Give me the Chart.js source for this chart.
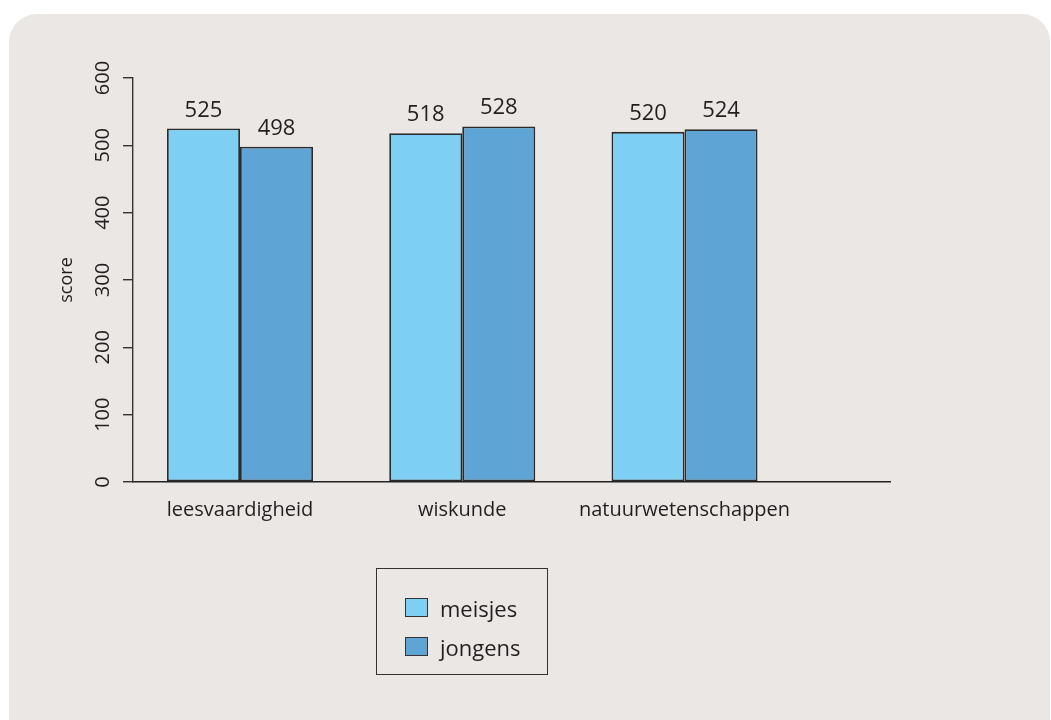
<!DOCTYPE html>
<html>

<head>
  <title>score meisjes jongens</title>
  <style>
    body {
      margin: 0;
      background-color: #ffffff;
      font-family: "Open Sans", sans-serif;
      width: 1051px;
      height: 720px;
      overflow: hidden;
      position: relative;
    }

    .paneel {
      position: absolute;
      left: 9px;
      top: 14px;
      width: 1041px;
      height: 740px;
      background-color: #ebe7e4;
      border-radius: 28px 28px 0 0;
    }

    #grafiek {
      position: absolute;
      left: 0;
      top: 0;
    }

    #legenda {
      position: absolute;
      left: 376px;
      top: 568px;
      width: 172px;
      height: 107px;
      border: 1.3px solid #333;
      box-sizing: border-box;
      padding-top: 19px;
      color: #231f20;
      font-size: 22px;
    }

    #legenda .item {
      height: 39px;
      display: flex;
      align-items: center;
      padding-left: 28px;
    }

    #legenda .blokje {
      width: 23px;
      height: 19px;
      border: 1.3px solid #333;
      box-sizing: border-box;
      margin-right: 12px;
    }
  </style>
</head>

<body>
  <div class="paneel"></div>
  <canvas id="grafiek" width="1051" height="720"></canvas>
  <div id="legenda"></div>

  <script src="https://cdn.jsdelivr.net/npm/chart.js"></script>
  <script>
    // data
    var vakken = ["leesvaardigheid", "wiskunde", "natuurwetenschappen"];
    var meisjes = [525, 518, 520];
    var jongens = [498, 528, 524];
    var yTicks = [0, 100, 200, 300, 400, 500, 600];

    var kleurMeisjes = "#7dcff4";
    var kleurJongens = "#5ea5d5";
    var tekstKleur = "#231f20";

    function punten(waarden) {
      return waarden.map(function (v, i) {
        return { x: i + 1, y: v };
      });
    }

    // getallen boven de staven
    var waardenPlugin = {
      id: "waarden",
      afterDatasetsDraw: function (chart) {
        var ctx = chart.ctx;
        ctx.save();
        ctx.font = "22px 'Open Sans'";
        ctx.fillStyle = tekstKleur;
        ctx.textAlign = "center";
        ctx.textBaseline = "alphabetic";
        chart.data.datasets.forEach(function (ds, d) {
          chart.getDatasetMeta(d).data.forEach(function (bar, i) {
            ctx.fillText(ds.data[i].y, bar.x, bar.y - 12);
          });
        });
        ctx.restore();
      }
    };

    var chart = new Chart(document.getElementById("grafiek"), {
      type: "bar",
      data: {
        datasets: [{
          label: "meisjes",
          data: punten(meisjes),
          backgroundColor: kleurMeisjes,
          borderColor: "#2b2b2b",
          borderWidth: 1.8,
          borderSkipped: false
        }, {
          label: "jongens",
          data: punten(jongens),
          backgroundColor: kleurJongens,
          borderColor: "#2b2b2b",
          borderWidth: 1.8,
          borderSkipped: false
        }]
      },
      options: {
        responsive: false,
        animation: false,
        layout: {
          padding: { left: 0, top: 78, right: 161, bottom: 198 }
        },
        datasets: {
          bar: { categoryPercentage: 0.657, barPercentage: 1 }
        },
        plugins: {
          legend: { display: false },
          tooltip: { enabled: false }
        },
        scales: {
          x: {
            type: "linear",
            offset: false,
            min: 0.5186,
            max: 3.9246,
            grid: { display: true, offset: false, drawOnChartArea: false, drawTicks: false },
            border: { display: true, color: "#222", width: 1.6 },
            afterBuildTicks: function (scale) {
              scale.ticks = vakken.map(function (v, i) { return { value: i + 1 }; });
            },
            ticks: {
              padding: 16,
              color: tekstKleur,
              font: { family: "Open Sans", size: 20 },
              maxRotation: 0,
              callback: function (v) { return vakken[v - 1]; }
            },
            afterFit: function (scale) { scale.height = 40; }
          },
          y: {
            min: 0,
            max: 600,
            afterBuildTicks: function (scale) {
              scale.ticks = yTicks.map(function (v) { return { value: v }; });
            },
            grid: { display: true, drawOnChartArea: false, drawTicks: true, tickLength: 10, color: "#333", lineWidth: 1.4 },
            border: { display: true, color: "#333", width: 1.4 },
            ticks: {
              padding: 3,
              minRotation: 90,
              maxRotation: 90,
              crossAlign: "center",
              color: tekstKleur,
              font: { family: "Open Sans", size: 20 }
            },
            title: {
              display: true,
              text: "score",
              color: tekstKleur,
              font: { family: "Open Sans", size: 18 },
              padding: { top: 56, bottom: 0 }
            },
            afterFit: function (scale) { scale.width = 133; }
          }
        }
      },
      plugins: [waardenPlugin]
    });

    // legenda opbouwen uit de datasets
    var legenda = document.getElementById("legenda");
    chart.data.datasets.forEach(function (ds) {
      var item = document.createElement("div");
      item.className = "item";
      var blokje = document.createElement("span");
      blokje.className = "blokje";
      blokje.style.backgroundColor = ds.backgroundColor;
      var tekst = document.createElement("span");
      tekst.textContent = ds.label;
      item.appendChild(blokje);
      item.appendChild(tekst);
      legenda.appendChild(item);
    });
  </script>
</body>

</html>
